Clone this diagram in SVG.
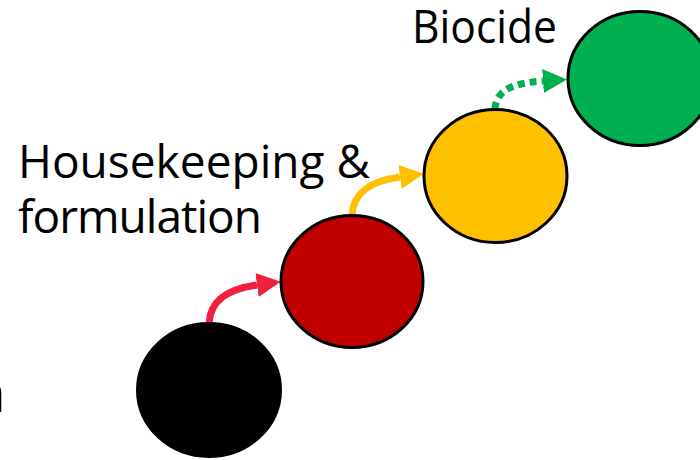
<svg xmlns="http://www.w3.org/2000/svg" width="700" height="460" viewBox="0 0 700 460">
<defs>
<style>
.lbl{font-family:"Open Sans","Noto Sans","DejaVu Sans",sans-serif;font-size:46px;fill:#000}
.arr{fill:none;stroke-width:7}
</style>
<marker id="mRed" viewBox="0 0 10 10" refX="0" refY="5" markerUnits="userSpaceOnUse" markerWidth="24" markerHeight="24" orient="auto"><path d="M0,0 L10,5 L0,10 Z" fill="#F0203F"/></marker>
<marker id="mYel" viewBox="0 0 10 10" refX="0" refY="5" markerUnits="userSpaceOnUse" markerWidth="24" markerHeight="24" orient="auto"><path d="M0,0 L10,5 L0,10 Z" fill="#FFC000"/></marker>
<marker id="mGrn" viewBox="0 0 10 10" refX="0" refY="5" markerUnits="userSpaceOnUse" markerWidth="24" markerHeight="24" orient="auto"><path d="M0,0 L10,5 L0,10 Z" fill="#00B050"/></marker>
</defs>
<rect width="700" height="460" fill="#fff"/>
<g id="connectors">
<path class="arr" stroke="#F0203F" d="M209,324 C210,300 228,289 257,285" marker-end="url(#mRed)"/>
<path class="arr" stroke="#FFC000" d="M352,216 C353,192 371,181 400,177" marker-end="url(#mYel)"/>
<path class="arr" stroke="#00B050" stroke-dasharray="7 5" d="M495,109 C496,90 513,83 543,81" marker-end="url(#mGrn)"/>
</g>
<g id="node-black"><ellipse cx="209" cy="390" rx="72" ry="67" fill="#000" stroke="#000" stroke-width="2"/></g>
<g id="node-red"><ellipse cx="352" cy="281.5" rx="71" ry="66" fill="#C00000" stroke="#000" stroke-width="3"/></g>
<g id="node-yellow"><ellipse cx="495.5" cy="176" rx="71.5" ry="66.5" fill="#FFC000" stroke="#000" stroke-width="3"/></g>
<g id="node-green"><ellipse cx="640" cy="78.5" rx="72" ry="67" fill="#00B050" stroke="#000" stroke-width="3"/></g>
<g id="labels">
<text class="lbl" x="412" y="43" textLength="145" lengthAdjust="spacingAndGlyphs">Biocide</text>
<text class="lbl" x="18" y="178" textLength="352" lengthAdjust="spacing">Housekeeping &amp;</text>
<text class="lbl" x="18" y="233" textLength="244" lengthAdjust="spacing">formulation</text>
<text class="lbl" x="-28" y="412" style="font-size:55px">n</text>
</g>
</svg>
